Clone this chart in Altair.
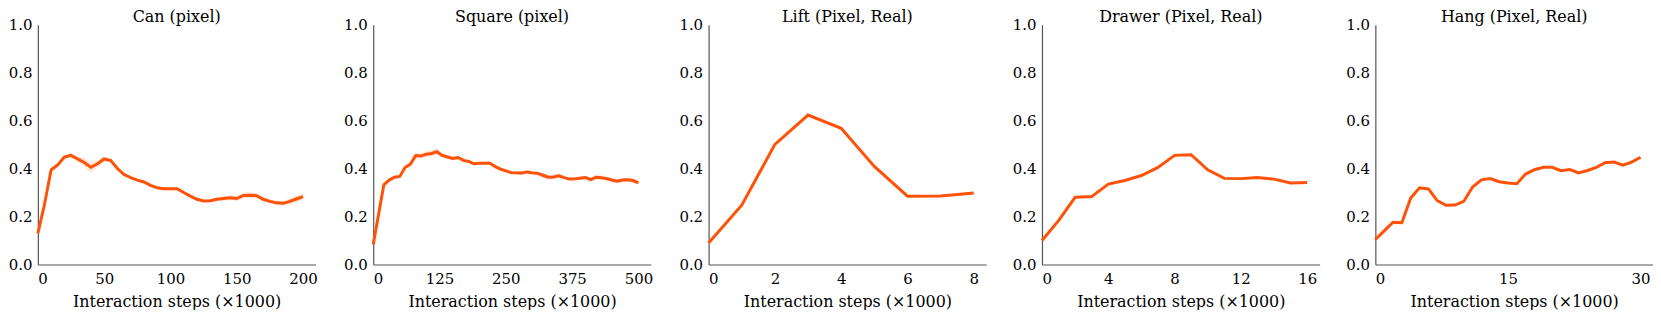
import altair as alt
import pandas as pd

# ---------------- data ----------------
TITLES = ["Can (pixel)", "Square (pixel)", "Lift (Pixel, Real)", "Drawer (Pixel, Real)", "Hang (Pixel, Real)"]

CAN_X = list(range(0, 201, 5))
CAN_Y = [0.13, 0.25, 0.395, 0.415, 0.448, 0.455, 0.44, 0.425, 0.405, 0.42,
         0.44, 0.433, 0.40, 0.375, 0.362, 0.352, 0.344, 0.33, 0.32, 0.316,
         0.316, 0.316, 0.30, 0.285, 0.272, 0.265, 0.266, 0.272, 0.275, 0.278,
         0.275, 0.288, 0.289, 0.287, 0.272, 0.263, 0.257, 0.255, 0.263, 0.273,
         0.283]
CAN_SD = [0.005, 0.006, 0.01, 0.01, 0.01, 0.01, 0.012, 0.018, 0.022, 0.015,
          0.01, 0.008, 0.008, 0.007, 0.006, 0.006, 0.006, 0.006, 0.006, 0.006,
          0.006, 0.006, 0.006, 0.006, 0.006, 0.006, 0.006, 0.008, 0.01, 0.01,
          0.01, 0.012, 0.012, 0.01, 0.008, 0.008, 0.01, 0.01, 0.012, 0.014,
          0.014]

SQ_X = list(range(0, 501, 10))
SQ_Y = [0.083, 0.207, 0.332, 0.352, 0.364, 0.367, 0.404, 0.418, 0.454, 0.452,
        0.46, 0.463, 0.47, 0.455, 0.448, 0.442, 0.446, 0.434, 0.43, 0.42,
        0.422, 0.422, 0.422, 0.408, 0.398, 0.39, 0.383, 0.382, 0.381, 0.386,
        0.382, 0.38, 0.372, 0.364, 0.365, 0.37, 0.362, 0.356, 0.357, 0.36,
        0.363, 0.354, 0.364, 0.362, 0.358, 0.352, 0.347, 0.352, 0.353, 0.35,
        0.34]
SQ_SD = [0.004, 0.005, 0.006, 0.006, 0.006, 0.006, 0.008, 0.01, 0.012, 0.012,
         0.012, 0.012, 0.012, 0.01, 0.008, 0.008, 0.008, 0.008, 0.006, 0.006,
         0.006, 0.006, 0.006, 0.008, 0.008, 0.008, 0.008, 0.008, 0.008, 0.008,
         0.01, 0.01, 0.01, 0.01, 0.01, 0.008, 0.008, 0.008, 0.008, 0.008,
         0.008, 0.01, 0.01, 0.01, 0.01, 0.01, 0.01, 0.008, 0.008, 0.008,
         0.008]

LIFT_X = list(range(0, 9))
LIFT_Y = [0.09, 0.247, 0.501, 0.623, 0.568, 0.409, 0.285, 0.286, 0.298]

DRAWER_X = list(range(0, 17))
DRAWER_Y = [0.10, 0.183, 0.28, 0.283, 0.335, 0.35, 0.371, 0.405, 0.455, 0.458,
            0.395, 0.359, 0.358, 0.363, 0.356, 0.34, 0.342]

HANG_X = list(range(0, 31))
HANG_Y = [0.104, 0.14, 0.176, 0.174, 0.277, 0.32, 0.315, 0.266, 0.247, 0.248,
          0.263, 0.323, 0.353, 0.358, 0.345, 0.34, 0.337, 0.377, 0.395, 0.405,
          0.405, 0.391, 0.396, 0.382, 0.392, 0.405, 0.424, 0.427, 0.414, 0.427,
          0.447]

XTICKS = [[0, 50, 100, 150, 200], [0, 125, 250, 375, 500], [0, 2, 4, 6, 8],
          [0, 4, 8, 12, 16], [0, 15, 30]]
YTICKS = [0.0, 0.2, 0.4, 0.6, 0.8, 1.0]

COLOR = "#FF5208"
FONT = "DejaVu Serif"
W, H = 279, 241


def panel(title, xs, ys, sds, ticks):
    df = pd.DataFrame({"x": xs, "y": ys})
    if sds is not None:
        df["lo"] = [y - s for y, s in zip(ys, sds)]
        df["hi"] = [y + s for y, s in zip(ys, sds)]
    xmax = ticks[-1] * 1.047
    xenc = alt.X("x:Q", scale=alt.Scale(domain=[0, xmax], nice=False, zero=True),
                 axis=alt.Axis(values=ticks, title="Interaction steps (\u00d71000)",
                               format="d"))
    yenc = alt.Y("y:Q", scale=alt.Scale(domain=[0, 1], nice=False),
                 axis=alt.Axis(values=YTICKS, format=".1f", title=None))
    base = alt.Chart(df)
    line = base.mark_line(color=COLOR, strokeWidth=3).encode(x=xenc, y=yenc)
    layers = []
    if sds is not None:
        band = base.mark_area(color=COLOR, opacity=0.15).encode(
            x=xenc, y=alt.Y("lo:Q", scale=alt.Scale(domain=[0, 1], nice=False)), y2="hi:Q")
        layers.append(band)
    layers.append(line)
    return alt.layer(*layers).properties(width=W, height=H, title=title)


charts = [
    panel(TITLES[0], CAN_X, CAN_Y, CAN_SD, XTICKS[0]),
    panel(TITLES[1], SQ_X, SQ_Y, SQ_SD, XTICKS[1]),
    panel(TITLES[2], LIFT_X, LIFT_Y, None, XTICKS[2]),
    panel(TITLES[3], DRAWER_X, DRAWER_Y, None, XTICKS[3]),
    panel(TITLES[4], HANG_X, HANG_Y, None, XTICKS[4]),
]

chart = alt.hconcat(*charts, spacing=26).properties(padding=0).configure_view(
    stroke=None
).configure_axis(
    labelFont=FONT, titleFont=FONT, labelFontSize=15, titleFontSize=16,
    labelColor="#000000", titleColor="#000000", titleFontWeight="normal",
    grid=False, ticks=False, domainColor="#555555", domainWidth=1.2,
).configure_axisY(
    labelPadding=6,
).configure_axisX(
    labelPadding=7, titlePadding=7,
).configure_title(
    font=FONT, fontSize=16, fontWeight="normal", color="#000000", offset=-7,
    anchor="middle",
)

chart.save("out.html", embed_options={"renderer": "svg", "actions": False})
